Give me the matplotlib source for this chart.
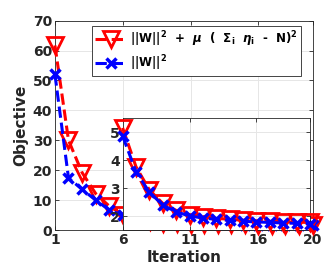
import matplotlib
matplotlib.use('Agg')
import matplotlib.pyplot as plt

iterations = list(range(1, 21))
obj_full = [61.7, 30.0, 19.2, 12.2, 8.0, 5.15, 3.76, 2.93, 2.45, 2.2,
            2.05, 1.98, 1.92, 1.88, 1.85, 1.83, 1.81, 1.79, 1.78, 1.77]
obj_w = [52.0, 17.4, 13.6, 10.0, 6.7, 4.86, 3.58, 2.85, 2.39, 2.15,
         2.0, 1.93, 1.88, 1.84, 1.81, 1.79, 1.77, 1.75, 1.74, 1.73]
xticks = [1, 6, 11, 16, 20]
yticks = [0, 10, 20, 30, 40, 50, 60, 70]
inset_yticks = [2, 3, 4, 5]
inset_start = 6  # first iteration shown in the zoomed inset

label_full = (r'||W||$^{\mathbf{2}}$  +  $\mu$  (  $\Sigma_{\mathbf{i}}$  '
              r'$\eta_{\mathbf{i}}$  -  N)$^{\mathbf{2}}$')
label_w = r'||W||$^{\mathbf{2}}$'

plt.rcParams['font.family'] = ['DejaVu Sans']
plt.rcParams['font.weight'] = 'bold'
plt.rcParams['mathtext.fontset'] = 'dejavusans'

dark = '#262626'
grid_c = '#e6e6e6'


def style(ax):
    ax.tick_params(direction='in', length=3, width=0.6, colors=dark,
                   labelsize=10, top=True, right=True, pad=2)
    for s in ax.spines.values():
        s.set_color(dark)
        s.set_linewidth(0.6)
    ax.grid(True, color=grid_c, linewidth=0.7)
    ax.set_axisbelow(True)


def draw(ax, x, y1, y2):
    ax.plot(x, y1, 'r--v', lw=2.2, ms=12, mew=2, mfc='none', mec='red',
            clip_on=False, zorder=3, label=label_full)
    ax.plot(x, y2, 'b--x', lw=2.2, ms=7, mew=2.5, clip_on=False,
            zorder=4, label=label_w)


fig = plt.figure(figsize=(3.27, 2.73), dpi=100)
ax = fig.add_axes([0.168, 0.1575, 0.788, 0.767])
draw(ax, iterations, obj_full, obj_w)
ax.set_xlim(1, 20)
ax.set_ylim(0, 70)
ax.set_xticks(xticks)
ax.set_yticks(yticks)
style(ax)
ax.set_xlabel('Iteration', fontsize=11, fontweight='bold', color=dark,
              labelpad=2)
ax.set_ylabel('Objective', fontsize=11, fontweight='bold', color=dark,
              labelpad=3)
leg = ax.legend(loc='upper right', bbox_to_anchor=(0.954, 0.976),
                borderaxespad=0, fontsize=8.5, handlelength=2.6,
                fancybox=False, framealpha=1, edgecolor=dark,
                borderpad=0.3, labelspacing=0.35, handletextpad=0.3)
leg.get_frame().set_linewidth(0.6)

k = iterations.index(inset_start)
ins = fig.add_axes([0.375, 0.1575, 0.573, 0.410])
ins.set_facecolor('white')
draw(ins, iterations[k:], obj_full[k:], obj_w[k:])
ins.set_xlim(6, 20)
ins.set_ylim(1.5, 5.5)
ins.set_xticks(xticks[1:])
ins.set_xticklabels([])
ins.set_yticks(inset_yticks)
style(ins)

fig.savefig('out.png', dpi=100)
